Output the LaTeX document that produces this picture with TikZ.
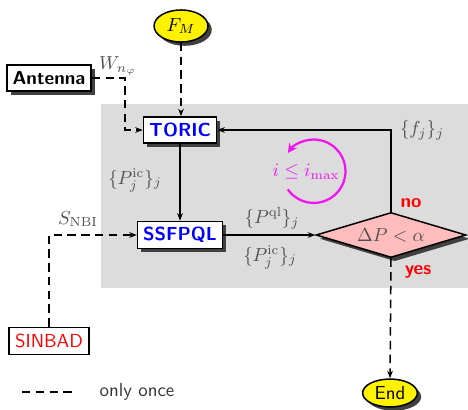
\documentclass[tikz,border=0pt]{standalone}
\usetikzlibrary{shapes.geometric,shadows,arrows.meta}
\definecolor{bggray}{RGB}{220,220,220}
\definecolor{pinkfill}{RGB}{255,188,188}
\definecolor{labgray}{RGB}{80,80,80}
\definecolor{loopmag}{RGB}{240,20,240}
\begin{document}
\begin{tikzpicture}[x=0.53pt,y=-0.53pt,
  box/.style={draw, line width=0.8pt, fill=white, font=\sffamily\bfseries, inner sep=0pt, minimum height=13.8pt},
  shad/.style={drop shadow={shadow xshift=2pt,shadow yshift=-2pt,fill=black!75,opacity=1}},
  ell/.style={ellipse, draw, line width=0.8pt, fill=yellow, inner sep=0pt},
  lab/.style={text=labgray, inner sep=0pt},
  yn/.style={text=red, font=\sffamily\bfseries, inner sep=0pt},
  conn/.style={line width=0.8pt, -{Stealth[length=4pt,width=3pt]}},
  dashline/.style={line width=0.8pt, dash pattern=on 4.5pt off 2.8pt},
  ]
\useasboundingbox (0,0) rectangle (468,409);
\fill[bggray] (101,104) rectangle (468,288);

\node[ell, shad, minimum width=28.6pt, minimum height=17pt] (fm) at (181,26) {$F_M$};
\node[box, shad, minimum width=44.5pt] (ant) at (49,78) {Antenna};
\node[box, shad, minimum width=38.7pt, text=blue] (toric) at (180,130) {TORIC};
\node[box, shad, minimum width=45pt, minimum height=14.3pt, text=blue] (ssf) at (180,235) {SSFPQL};
\node[box, font=\sffamily, text=red, minimum width=42.4pt, minimum height=14.3pt] (sin) at (49,341) {SINBAD};
\node[diamond, draw, line width=0.8pt, fill=pinkfill, shad, aspect=3.33, minimum width=79.5pt, minimum height=23.9pt, inner sep=0pt, text=labgray] (dec) at (391,235) {$\Delta P<\alpha$};
\node[ell, shad, minimum width=29pt, minimum height=14.8pt, font=\sffamily] (end) at (390,393) {End};

\coordinate (a1) at (125,78);
\draw[dashline, conn] (fm.south) -- (fm.south |- toric.north);
\draw[dashline, conn] (ant.east) -- (a1) |- (toric.west);
\draw[dashline, conn] (sin.north) |- (ssf.west);
\draw[conn] (toric) -- (ssf);
\draw[conn] (ssf.east) -- (dec.west);
\draw[conn] (dec.north) |- (toric.east);
\draw[dashline, conn] (dec.south) -- (end.north);

\node[lab] (lw) at (118,66) {$W_{n_\varphi}$};
\node[lab] (lp1) at (135,180) {$\{P_j^{\mathrm{ic}}\}_j$};
\node[lab] (ls) at (78,219) {$S_{\mathrm{NBI}}$};
\node[lab] (lql) at (272,218) {$\{P^{\mathrm{ql}}\}_j$};
\node[lab] (lic) at (270,257) {$\{P_j^{\mathrm{ic}}\}_j$};
\node[lab] (lf) at (422,130) {$\{f_j\}_j$};
\node[yn] (no) at (411,203) {no};
\node[yn] (yes) at (418,272) {yes};

\coordinate (lc) at (287.8,189.4);
\draw[loopmag, line width=1.2pt, -{Stealth[length=5pt,width=5pt]}] (lc) arc[start angle=215, end angle=505, radius=16.8pt];
\node[text=loopmag, inner sep=0pt] (loop) at (306,172) {$i\le i_{\max}$};

\coordinate (l1) at (22,392);
\coordinate (l2) at (76,392);
\draw[dashline] (l1) -- (l2);
\node[font=\sffamily, text=black!80, inner sep=0pt] (leg) at (137,392) {only once};
\end{tikzpicture}
\end{document}
